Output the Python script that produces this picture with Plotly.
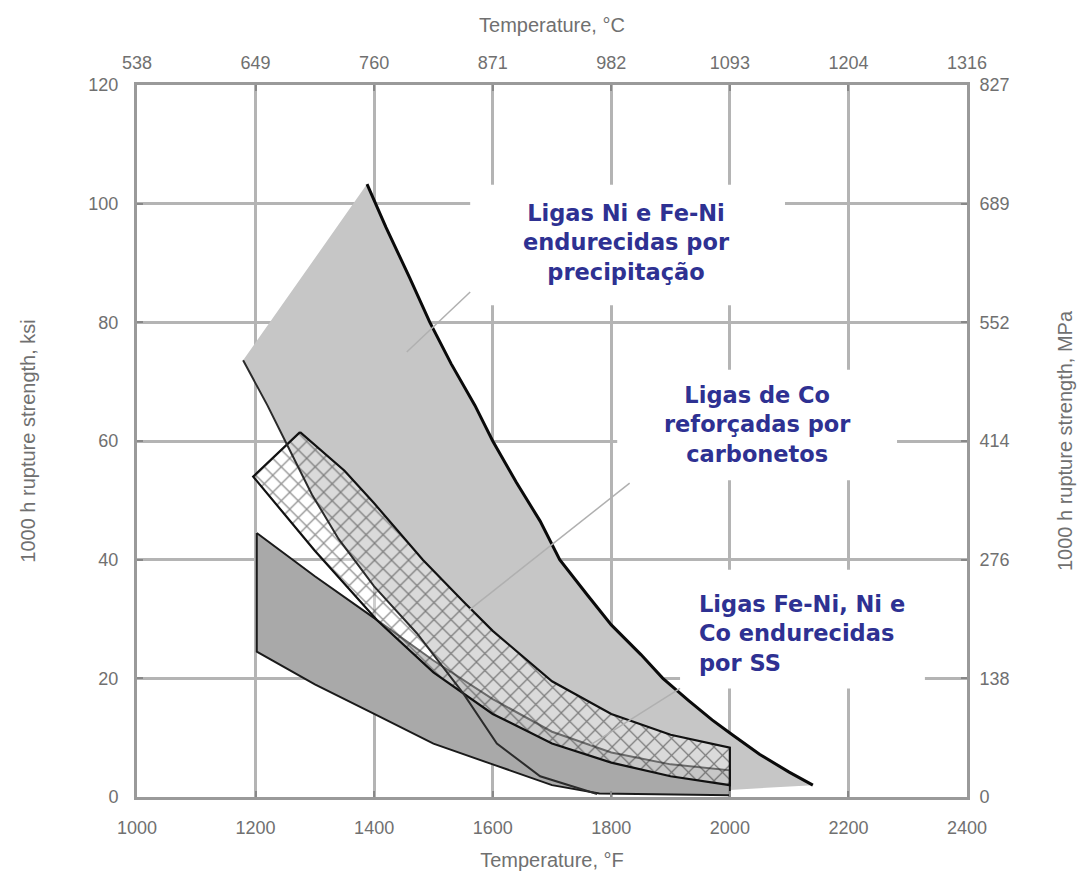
import plotly.graph_objects as go

# ---------------- data ----------------
temp_f_ticks = [1000, 1200, 1400, 1600, 1800, 2000, 2200, 2400]
temp_c_labels = ["538", "649", "760", "871", "982", "1093", "1204", "1316"]
ksi_ticks = [0, 20, 40, 60, 80, 100, 120]
mpa_labels = ["0", "138", "276", "414", "552", "689", "827"]

# Precipitation-hardened Ni and Fe-Ni alloys (light band)
ph_upper_t = [1388, 1420, 1460, 1494, 1530, 1570, 1600, 1640, 1680, 1713, 1760, 1800,
              1850, 1887, 1930, 1970, 2000, 2050, 2100, 2140]
ph_upper_s = [103.3, 96, 87.5, 80, 73, 66, 60, 53, 46.5, 40, 34, 29,
              24, 20, 16.3, 13, 10.8, 7.2, 4.2, 2]
ph_lower_t = [1179, 1220, 1255, 1295, 1340, 1400, 1472, 1550, 1607, 1680, 1776]
ph_lower_s = [73.6, 66, 59, 51, 43.5, 35.5, 27.6, 17.5, 9, 3.5, 0.5]
ph_floor_t = [1776, 2000, 2140]
ph_floor_s = [0.5, 1.2, 2]

# Carbide-strengthened Co alloys (hatched band)
co_top_t = [1275, 1350, 1400, 1482, 1550, 1600, 1700, 1800, 1900, 2000]
co_top_s = [61.5, 55, 49.5, 40, 33, 28, 19.5, 14, 10.5, 8.3]
co_bot_t = [1196, 1300, 1405, 1500, 1600, 1700, 1800, 1900, 2000]
co_bot_s = [54, 41.5, 29.8, 21, 14, 9, 5.8, 3.5, 2]

# Solid-solution-strengthened Fe-Ni, Ni, Co alloys (dark band)
ss_top_t = [1202, 1300, 1405, 1500, 1600, 1700, 1800, 1900, 2000]
ss_top_s = [44.5, 37.2, 29.8, 23, 16.5, 11, 7.5, 5.5, 4.5]
ss_bot_t = [1202, 1300, 1400, 1500, 1600, 1700, 1780, 2000]
ss_bot_s = [24.5, 19, 14, 9, 5.5, 2, 0.6, 0.3]

# label texts, anchor points, white label boxes and leader lines
label_texts = [
    "<b>Ligas Ni e Fe-Ni<br>endurecidas por<br>precipitação</b>",
    "<b>Ligas de Co<br>reforçadas por<br>carbonetos</b>",
    "<b>Ligas Fe-Ni, Ni e<br>Co endurecidas<br>por SS</b>",
]
label_t = [1826, 2046, 1944]
label_s = [93.4, 62.7, 27.5]
label_xanchor = ["center", "center", "left"]
label_align = ["center", "center", "left"]
label_box_t = [[1562, 2093], [1810, 2282], [1916, 2329]]
label_box_s = [[82.9, 103.2], [53.4, 72.0], [18.3, 38.3]]
leader_t = [[1562, 1455], [1831, 1560], [1916, 1765]]
leader_s = [[85.1, 75.0], [52.9, 31.5], [18.3, 8.8]]

# ---------------- figure ----------------
fig = go.Figure()

# light precipitation-hardened region
ph_poly_t = ph_lower_t + ph_floor_t[1:] + ph_upper_t[::-1] + [ph_lower_t[0]]
ph_poly_s = ph_lower_s + ph_floor_s[1:] + ph_upper_s[::-1] + [ph_lower_s[0]]
fig.add_trace(go.Scatter(x=ph_poly_t, y=ph_poly_s, mode="none", fill="toself",
                         fillcolor="#c6c6c6", hoverinfo="skip", showlegend=False))

# dark solid-solution band
ss_poly_t = ss_top_t + ss_bot_t[::-1] + [ss_top_t[0]]
ss_poly_s = ss_top_s + ss_bot_s[::-1] + [ss_top_s[0]]
fig.add_trace(go.Scatter(x=ss_poly_t, y=ss_poly_s, mode="lines", fill="toself",
                         fillcolor="#a9a9a9", line=dict(color="#1a1a1a", width=2),
                         hoverinfo="skip", showlegend=False))

# hatched Co band
co_poly_t = co_top_t + co_bot_t[::-1] + [co_top_t[0]]
co_poly_s = co_top_s + co_bot_s[::-1] + [co_top_s[0]]
fig.add_trace(go.Scatter(x=co_poly_t, y=co_poly_s, mode="lines", fill="toself",
                         fillcolor="rgba(255,255,255,0.35)",
                         fillpattern=dict(shape="x", size=12, solidity=0.2,
                                          fgcolor="#222222",
                                          bgcolor="rgba(255,255,255,0.35)"),
                         line=dict(color="#111111", width=2.2),
                         hoverinfo="skip", showlegend=False))

# boundary lines of the precipitation-hardened region
fig.add_trace(go.Scatter(x=ph_lower_t, y=ph_lower_s, mode="lines",
                         line=dict(color="#2b2b2b", width=2),
                         hoverinfo="skip", showlegend=False))
fig.add_trace(go.Scatter(x=ph_upper_t, y=ph_upper_s, mode="lines",
                         line=dict(color="#0a0a0a", width=3),
                         hoverinfo="skip", showlegend=False))

# leader lines
for lt, ls in zip(leader_t, leader_s):
    fig.add_trace(go.Scatter(x=lt, y=ls, mode="lines",
                             line=dict(color="#b0b0b0", width=1.5),
                             hoverinfo="skip", showlegend=False))

# invisible trace to activate the secondary axes
fig.add_trace(go.Scatter(x=temp_f_ticks, y=[None] * len(temp_f_ticks), xaxis="x2", yaxis="y2",
                         mode="markers", marker=dict(opacity=0), hoverinfo="skip",
                         showlegend=False))

# white boxes behind the labels (hide grid lines only)
for bt, bs in zip(label_box_t, label_box_s):
    fig.add_shape(type="rect", xref="x", yref="y", x0=bt[0], x1=bt[1], y0=bs[0], y1=bs[1],
                  fillcolor="white", line=dict(width=0), layer="between")

for txt, t, s, xa, al in zip(label_texts, label_t, label_s, label_xanchor, label_align):
    fig.add_annotation(x=t, y=s, xref="x", yref="y", text=txt, showarrow=False,
                       xanchor=xa, yanchor="middle", align=al,
                       font=dict(family="DejaVu Sans", size=22.5, color="#2e3192"))

tick_font = dict(family="Liberation Sans", size=18, color="#707070")
title_font = dict(family="Liberation Sans", size=20, color="#707070")
grid_col = "#b4b4b4"
axis_col = "#9a9a9a"

fig.update_layout(
    width=1080, height=875,
    margin=dict(l=137, r=113, t=85, b=78, autoexpand=False),
    paper_bgcolor="white", plot_bgcolor="white",
    xaxis=dict(range=[1000, 2400], tickvals=temp_f_ticks,
               ticktext=[str(v) for v in temp_f_ticks], automargin=False,
               showgrid=True, gridcolor=grid_col, gridwidth=2.5,
               showline=True, linecolor=axis_col, linewidth=3,
               ticks="inside", ticklen=6, tickcolor="#888", tickwidth=2,
               zeroline=False, tickfont=tick_font, ticklabelstandoff=12,
               title=dict(text="Temperature, °F", font=title_font, standoff=17)),
    yaxis=dict(range=[0, 120], tickvals=ksi_ticks,
               ticktext=[str(v) for v in ksi_ticks], automargin=False,
               showgrid=True, gridcolor=grid_col, gridwidth=2.5,
               showline=True, linecolor=axis_col, linewidth=3,
               ticks="inside", ticklen=6, tickcolor="#888", tickwidth=2,
               zeroline=False, tickfont=tick_font, ticklabelstandoff=12,
               title=dict(text="1000 h rupture strength, ksi", font=title_font, standoff=48)),
    xaxis2=dict(range=[1000, 2400], overlaying="x", side="top", tickvals=temp_f_ticks,
                ticktext=temp_c_labels, showgrid=False, showline=True, automargin=False,
                linecolor=axis_col, linewidth=3, ticks="inside", ticklen=6,
                tickcolor="#888", tickwidth=2, zeroline=False, tickfont=tick_font,
                ticklabelstandoff=6,
                title=dict(text="Temperature, °C", font=title_font, standoff=15)),
    yaxis2=dict(range=[0, 120], overlaying="y", side="right", tickvals=ksi_ticks,
                ticktext=mpa_labels, showgrid=False, showline=True, automargin=False,
                linecolor=axis_col, linewidth=3, ticks="inside", ticklen=6,
                tickcolor="#888", tickwidth=2, zeroline=False, tickfont=tick_font,
                ticklabelstandoff=6,
                title=dict(text="1000 h rupture strength, MPa", font=title_font, standoff=50)),
)

fig.write_html("out.html")
